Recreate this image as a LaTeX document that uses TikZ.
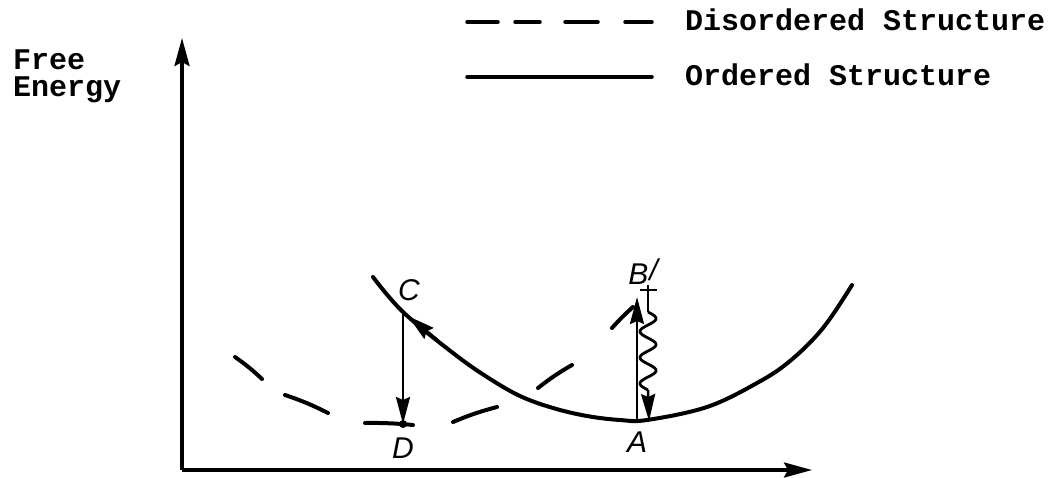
\documentclass[tikz,border=0pt]{standalone}
\usepackage{fontspec}
\setmonofont{Liberation Mono}
\setsansfont{Liberation Sans}
\usetikzlibrary{arrows.meta}
\begin{document}
\begin{tikzpicture}[x=1pt,y=-1pt,
  axis/.style={line width=3.3pt,-{Stealth[length=28pt,width=15pt,inset=4pt]}},
  curve/.style={line width=4pt,line cap=round},
  vline/.style={line width=2.5pt},
  ptlabel/.style={font=\fontsize{30}{30}\selectfont\sffamily\itshape,inner sep=0pt},
  txt/.style={font=\fontsize{30}{27}\selectfont\ttfamily\bfseries,inner sep=0pt},
  arrowtip/.style={-{Stealth[length=27pt,width=14pt,inset=3pt]}}
]
\useasboundingbox (0,0) rectangle (1057,477);
% axes
\coordinate (O) at (182,470);
\coordinate (Ytop) at (182,38);
\coordinate (Xend) at (812,470);
\draw[axis] (O) -- (Ytop);
\draw[axis] (O) -- (Xend);
% axis label
\node[txt,align=left,anchor=north west] (fe) at (13,50) {Free\\Energy};
% legend
\coordinate (d1a) at (467,22); \coordinate (d1b) at (498,22);
\coordinate (d2a) at (515,22); \coordinate (d2b) at (540,22);
\coordinate (d3a) at (565,22); \coordinate (d3b) at (598,22);
\coordinate (d4a) at (625,22); \coordinate (d4b) at (652,22);
\draw[curve,line width=3.5pt] (d1a) -- (d1b) (d2a) -- (d2b) (d3a) -- (d3b) (d4a) -- (d4b);
\node[txt,anchor=base west] (dis) at (685,30) {Disordered Structure};
\coordinate (l2a) at (467,77); \coordinate (l2b) at (652,77);
\draw[curve,line width=3.5pt] (l2a) -- (l2b);
\node[txt,anchor=base west] (ord) at (685,85) {Ordered Structure};
% ordered curve
\draw[curve] plot[smooth,tension=0.6] coordinates {(373,277) (403,312) (453,353) (487,377) (520,396) (553,408) (587,416) (620,420) (647,420) (707,407) (757,383) (790,361) (823,328) (852,285)};
% disordered curve segments
\draw[curve] (235,357) to[bend left=4] (262,379);
\draw[curve] (285,395) to[bend left=4] (328,413);
\draw[curve] (365,423) to[bend left=3] (413,425);
\draw[curve] (453,422) to[bend left=4] (497,407);
\draw[curve] (538,388) to[bend left=4] (572,365);
\draw[curve] (612,328) to[bend left=3] (633,307);
% points
\coordinate (C) at (403,313);
\coordinate (D) at (403,424);
\coordinate (A) at (637,421);
\coordinate (Btop) at (637,297);
\node[ptlabel] (lC) at (409,290) {C};
\node[ptlabel] (lD) at (403,448) {D};
\node[ptlabel] (lA) at (637,442) {A};
\node[ptlabel] (lB) at (643,272) {B\kern1pt\raisebox{4pt}{/}};
% C -> D
\draw[vline,arrowtip] (C) -- (D);
\fill (D) circle (4pt);
% arrow on curve towards C
\coordinate (cv1) at (438,341);
\coordinate (cv2) at (408,316);
\draw[line width=3.5pt,arrowtip] (cv1) -- (cv2);
% A -> B'
\draw[vline,arrowtip] (A) -- (Btop);
% T mark and wavy arrow
\coordinate (t1) at (640,290); \coordinate (t2) at (657,290);
\draw[vline] (t1) -- (t2);
\coordinate (w0) at (648,285);
\coordinate (w1) at (648,312);
\coordinate (w2) at (648,390);
\coordinate (wA) at (649,421);
\draw[vline] (w0) -- (w1);
\draw[line width=2.8pt,smooth] plot[domain=0:1,samples=80] ({648+8*sin(3*360*\x)},{312+78*\x});
\draw[vline,arrowtip] (w2) -- (wA);
\end{tikzpicture}
\end{document}
